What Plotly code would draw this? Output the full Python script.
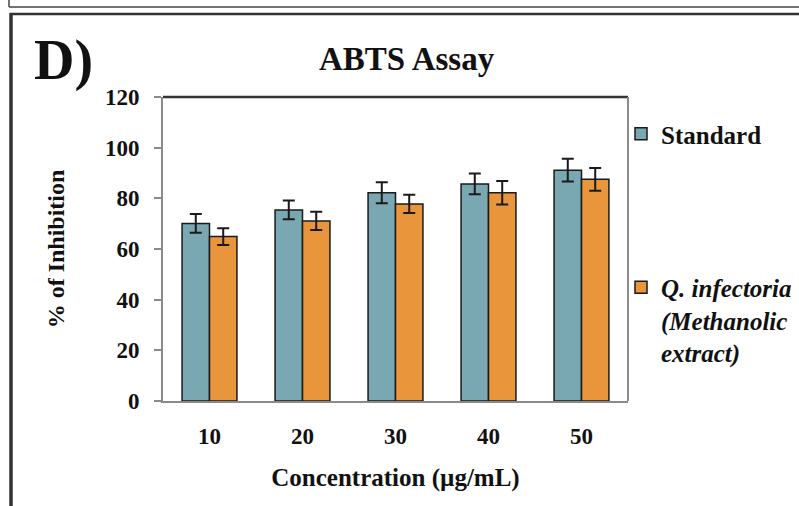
import plotly.graph_objects as go

categories = ["10", "20", "30", "40", "50"]
standard = [70.1, 75.4, 82.2, 85.7, 91.1]
standard_err = [3.7, 3.7, 4.1, 4.1, 4.5]
extract = [64.9, 71.1, 77.8, 82.2, 87.5]
extract_err = [3.3, 3.6, 3.6, 4.6, 4.5]
y_ticks = [0, 20, 40, 60, 80, 100, 120]

W, H = 799, 506
L, R, T, B = 163, 628, 97, 401
SERIF = "Liberation Serif, Times New Roman, serif"


def px(x):
    return (x - L) / (R - L)


def py(y):
    return (B - y) / (B - T)


fig = go.Figure()
fig.add_trace(go.Bar(
    x=categories, y=standard, name="Standard", legendgroup="a",
    marker=dict(color="#79A7B2", line=dict(color="#1a1a1a", width=1.5)),
    error_y=dict(type="data", array=standard_err, color="#1a1a1a", thickness=2, width=6),
))
fig.add_trace(go.Bar(
    x=categories, y=extract,
    name="<i>Q. infectoria</i><br><i>(Methanolic</i><br><i>extract)</i>", legendgroup="b",
    marker=dict(color="#E8953B", line=dict(color="#1a1a1a", width=1.5)),
    error_y=dict(type="data", array=extract_err, color="#1a1a1a", thickness=2, width=6),
))

fig.update_layout(
    width=W, height=H,
    margin=dict(l=L, r=W - R, t=T, b=H - B, autoexpand=False),
    paper_bgcolor="white", plot_bgcolor="white",
    barmode="group", bargap=0.41, bargroupgap=0,
    font=dict(family=SERIF, color="#111111"),
    showlegend=True,
    legend=dict(
        x=px(621), y=py(111), xanchor="left", yanchor="top",
        font=dict(family=SERIF, size=25, weight="bold", color="#111111"),
        traceorder="grouped", tracegroupgap=118, valign="top",
        bgcolor="rgba(0,0,0,0)", itemwidth=30,
    ),
)

fig.update_yaxes(
    range=[0, 120], tickvals=y_ticks, ticktext=[str(v) for v in y_ticks],
    ticks="outside", ticklen=7, tickcolor="#8a8a8a", tickwidth=1.5,
    showline=True, linecolor="#8a8a8a", linewidth=2,
    showgrid=False, zeroline=False,
    ticklabelstandoff=10,
    tickfont=dict(family=SERIF, size=23, weight="bold", color="#111111"),
    title=dict(text="% of Inhibition", standoff=34,
               font=dict(family=SERIF, size=24, weight="bold", color="#111111")),
)
fig.update_xaxes(
    showline=True, linecolor="#8a8a8a", linewidth=2, ticks="",
    showgrid=False, ticklabelstandoff=13,
    tickfont=dict(family=SERIF, size=23, weight="bold", color="#111111"),
    title=dict(text="Concentration (µg/mL)", standoff=21,
               font=dict(family=SERIF, size=25, weight="bold", color="#111111")),
)

# plot-area top (dark) and right (grey) borders
fig.add_shape(type="line", xref="paper", yref="paper", x0=0, x1=1, y0=1, y1=1,
              line=dict(color="#333333", width=2.5))
fig.add_shape(type="line", xref="paper", yref="paper", x0=1, x1=1, y0=0, y1=1,
              line=dict(color="#8a8a8a", width=2))

# outer panel frames
fig.add_shape(type="line", xref="paper", yref="paper", x0=px(9), x1=px(805), y0=py(7), y1=py(7),
              line=dict(color="#444444", width=1.5))
fig.add_shape(type="line", xref="paper", yref="paper", x0=px(9), x1=px(9), y0=py(-5), y1=py(7),
              line=dict(color="#444444", width=1.5))
fig.add_shape(type="line", xref="paper", yref="paper", x0=px(10), x1=px(805), y0=py(14), y1=py(14),
              line=dict(color="#333333", width=2.5))
fig.add_shape(type="line", xref="paper", yref="paper", x0=px(11), x1=px(11), y0=py(13), y1=py(510),
              line=dict(color="#333333", width=3.5))

fig.add_annotation(text="ABTS Assay", xref="paper", yref="paper", x=px(407), y=py(59),
                   showarrow=False, xanchor="center", yanchor="middle",
                   font=dict(family=SERIF, size=33, weight="bold", color="#111111"))
fig.add_annotation(text="D)", xref="paper", yref="paper", x=px(32), y=py(61),
                   showarrow=False, xanchor="left", yanchor="middle",
                   font=dict(family=SERIF, size=56, weight="bold", color="#111111"))

fig.write_html("out.html")
